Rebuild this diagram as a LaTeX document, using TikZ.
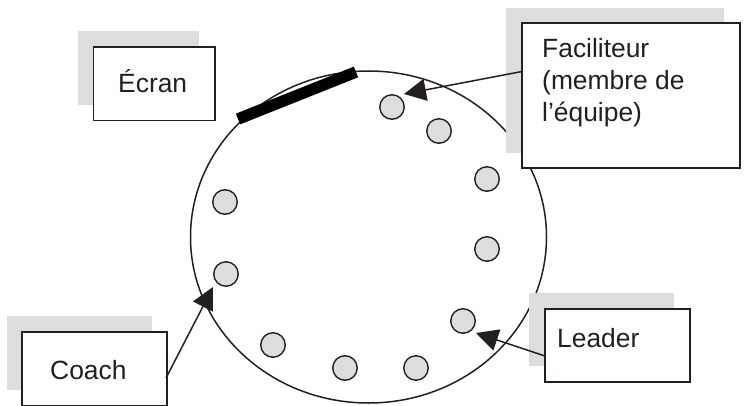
\documentclass[tikz,border=0pt]{standalone}
\usepackage{fontspec}
\setmainfont{Liberation Sans}
\usetikzlibrary{arrows.meta}
\definecolor{ink}{HTML}{231F20}
\definecolor{shade}{HTML}{DCDDDE}
\tikzset{
  x=1pt,y=-1pt,
  ring/.style={draw=ink,line width=1.5pt},
  seat/.style={circle,draw=ink,fill=shade,line width=1.4pt,minimum size=24.5pt,inner sep=0pt},
  shadowbox/.style={fill=shade,draw=none},
  labelbox/.style={draw=ink,fill=white,line width=1.2pt},
  lbl/.style={anchor=base west,inner sep=0pt,text=ink,font=\fontsize{26.4}{33}\selectfont},
  pointer/.style={draw=ink,line width=1.5pt,-{Triangle[length=22pt,width=22pt]},fill=ink},
}
\begin{document}
\begin{tikzpicture}
\useasboundingbox (0,0) rectangle (754,406);
% table
\draw[ring] (368.5,237) ellipse [x radius=178,y radius=166];
\foreach \n/\x/\y in {a/392/107,b/439/131,c/487/179,d/487/249,e/463/321,f/416/368,g/345/368,h/273/345,i/226/274,j/225/202}
  \node[seat] (\n) at (\x,\y) {};
% screen bar
\coordinate (barL) at (238,119);
\coordinate (barR) at (356,72);
\draw[black,line width=11.5pt] (barL) -- (barR);
% shadows
\fill[shadowbox] (78,31) rectangle (199,105);
\fill[shadowbox] (506,8) rectangle (724,153);
\fill[shadowbox] (7,316) rectangle (152,390);
\fill[shadowbox] (529,293) rectangle (674,366);
% boxes
\node[labelbox,minimum width=121.5pt,minimum height=73.7pt,inner sep=0pt] (ecran) at (154.2,83.8) {};
\node[labelbox,minimum width=218pt,minimum height=145pt,inner sep=0pt] (fac) at (631,95.5) {};
\node[labelbox,minimum width=145pt,minimum height=74pt,inner sep=0pt] (coach) at (94.5,369) {};
\node[labelbox,minimum width=145pt,minimum height=73pt,inner sep=0pt] (leader) at (617.5,345.5) {};
% texts
\node[lbl] (ecranT) at (118,93) {Écran};
\node[lbl] (facT1) at (542,58) {Faciliteur};
\node[lbl] (facT2) at (542,90) {(membre de};
\node[lbl] (facT3) at (542,122) {l’équipe)};
\node[lbl] (coachT) at (50,379) {Coach};
\node[lbl] (leaderT) at (557,347) {Leader};
% connectors
\coordinate (facS) at (522,71.5);
\coordinate (facE) at (404,94);
\coordinate (coachS) at (166,378);
\coordinate (coachE) at (213,287);
\coordinate (leadS) at (545,356);
\coordinate (leadE) at (476,333);
\draw[pointer] (facS) -- (facE);
\draw[pointer] (coachS) -- (coachE);
\draw[pointer] (leadS) -- (leadE);
\end{tikzpicture}
\end{document}
